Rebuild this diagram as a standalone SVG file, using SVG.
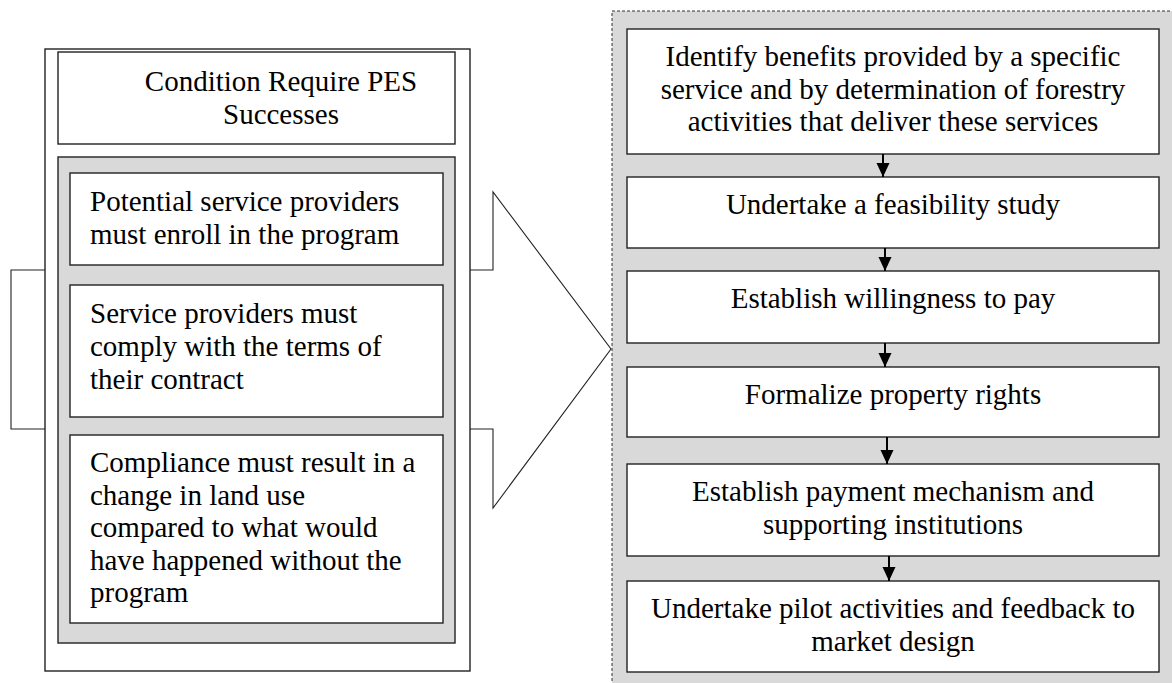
<svg xmlns="http://www.w3.org/2000/svg" width="1172" height="683" viewBox="0 0 1172 683">
<defs>
<style>
.t{font-family:"Liberation Serif","Times New Roman",serif;font-size:29px;fill:#000}
.c{text-anchor:middle}
.box{fill:#fff;stroke:#222;stroke-width:1.4}
.gray{fill:#d9d9d9;stroke:#222;stroke-width:1.4}
.conn{stroke:#000;stroke-width:2;fill:none}
</style>
<marker id="ah" viewBox="0 0 14 14" refX="14" refY="7" markerWidth="14" markerHeight="14" markerUnits="userSpaceOnUse" orient="auto">
<path d="M0,0.5 L14,7 L0,13.5 Z" fill="#000"/>
</marker>
</defs>
<rect width="1172" height="683" fill="#fff"/>
<g id="bigArrow">
<polygon points="11,270 493,270 493,192 611,349 493,508 493,429 11,429" fill="#fff" stroke="#222" stroke-width="1.1"/>
</g>
<g id="leftPanel">
<rect x="45" y="49" width="425" height="622" class="box"/>
</g>
<g id="title">
<rect x="58" y="52" width="397" height="92" class="box"/>
<text class="t c" x="281" y="91">Condition Require PES</text>
<text class="t c" x="281" y="124">Successes</text>
</g>
<g id="conditions">
<rect x="58" y="157" width="397" height="486" class="gray"/>
</g>
<g id="cond1">
<rect x="70" y="173" width="373" height="92" class="box"/>
<text class="t" x="90" y="211">Potential service providers</text>
<text class="t" x="90" y="244">must enroll in the program</text>
</g>
<g id="cond2">
<rect x="70" y="285" width="373" height="132" class="box"/>
<text class="t" x="90" y="323">Service providers must</text>
<text class="t" x="90" y="356">comply with the terms of</text>
<text class="t" x="90" y="389">their contract</text>
</g>
<g id="cond3">
<rect x="70" y="435" width="373" height="188" class="box"/>
<text class="t" x="90" y="472">Compliance must result in a</text>
<text class="t" x="90" y="504.5">change in land use</text>
<text class="t" x="90" y="537">compared to what would</text>
<text class="t" x="90" y="569.5">have happened without the</text>
<text class="t" x="90" y="602">program</text>
</g>
<g id="stepsPanel">
<rect x="612" y="11" width="570" height="700" fill="#d9d9d9" stroke="#333" stroke-width="1" stroke-dasharray="3,2"/>
</g>
<g id="step1">
<rect x="627" y="29" width="532" height="125" class="box"/>
<text class="t c" x="893" y="66">Identify benefits provided by a specific</text>
<text class="t c" x="893" y="98.5">service and by determination of forestry</text>
<text class="t c" x="893" y="131">activities that deliver these services</text>
</g>
<g id="step2">
<rect x="627" y="177" width="532" height="71" class="box"/>
<text class="t c" x="893" y="214">Undertake a feasibility study</text>
</g>
<g id="step3">
<rect x="627" y="271" width="532" height="72" class="box"/>
<text class="t c" x="893" y="308">Establish willingness to pay</text>
</g>
<g id="step4">
<rect x="627" y="367" width="532" height="70" class="box"/>
<text class="t c" x="893" y="404">Formalize property rights</text>
</g>
<g id="step5">
<rect x="627" y="464" width="532" height="92" class="box"/>
<text class="t c" x="893" y="501">Establish payment mechanism and</text>
<text class="t c" x="893" y="533.5">supporting institutions</text>
</g>
<g id="step6">
<rect x="627" y="581" width="532" height="91" class="box"/>
<text class="t c" x="893" y="618">Undertake pilot activities and feedback to</text>
<text class="t c" x="893" y="650.5">market design</text>
</g>
<g id="connectors">
<line class="conn" x1="883" y1="154" x2="883" y2="177" marker-end="url(#ah)"/>
<line class="conn" x1="885" y1="248" x2="885" y2="271" marker-end="url(#ah)"/>
<line class="conn" x1="885" y1="343" x2="885" y2="367" marker-end="url(#ah)"/>
<line class="conn" x1="887" y1="437" x2="887" y2="464" marker-end="url(#ah)"/>
<line class="conn" x1="889" y1="556" x2="889" y2="581" marker-end="url(#ah)"/>
</g>
</svg>
